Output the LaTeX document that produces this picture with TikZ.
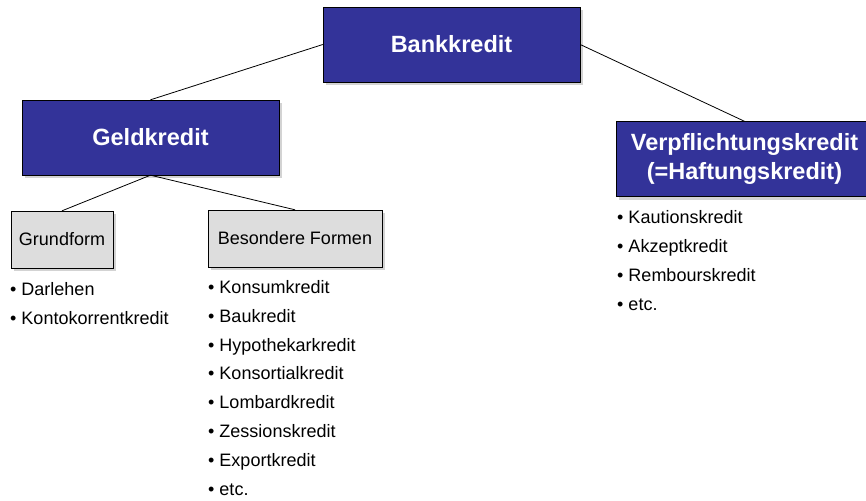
\documentclass[tikz,border=0pt]{standalone}
\usepackage{fontspec}
\setmainfont{Liberation Sans}
\usepackage{tikz}
\usetikzlibrary{shadows}
\definecolor{kreditblau}{RGB}{51,51,153}
\definecolor{formgrau}{RGB}{221,221,221}

\begin{document}
\begin{tikzpicture}[
        x=1pt, y=-1pt,
        hauptbox/.style={draw, fill=kreditblau, text=white, align=center, minimum width=257pt, minimum height=75pt, font=\fontsize{23.5}{29}\selectfont\bfseries, drop shadow={shadow xshift=3pt, shadow yshift=-3pt, opacity=0.35}},
        formbox/.style={draw, fill=formgrau, minimum height=57pt, font=\fontsize{18}{22}\selectfont, drop shadow={shadow xshift=3pt, shadow yshift=-3pt, opacity=0.35}},
        liste/.style={anchor=base west, inner sep=0pt, align=left, font=\fontsize{18}{28.8}\selectfont},
        linie/.style={line width=0.8pt}
    ]
        \useasboundingbox (0,0) rectangle (866,500);
        % Knoten
        \node (bank) at (451.5,44.5) [hauptbox] {Bankkredit};
        \node (geld) at (150.5,137.5) [hauptbox] {Geldkredit};
        \node (haftung) at (744.5,159) [hauptbox] {Verpflichtungskredit\\(=Haftungskredit)};
        \node (grundform) at (62,239.5) [formbox, minimum width=102pt] {Grundform};
        \node (besondere) at (295,238.5) [formbox, minimum width=174pt] {Besondere Formen};

        % Listen (Anker = Grundlinie der letzten Zeile)
        \node (grundliste) at (10,324) [liste] {• Darlehen\\• Kontokorrentkredit};
        \node (besondereliste) at (208,495) [liste] {• Konsumkredit\\• Baukredit\\• Hypothekarkredit\\• Konsortialkredit\\• Lombardkredit\\• Zessionskredit\\• Exportkredit\\• etc.};
        \node (haftungsliste) at (617,310) [liste] {• Kautionskredit\\• Akzeptkredit\\• Rembourskredit\\• etc.};

    \begin{scope}
        % Verbindungen
        \draw[linie] (bank.west) -- (geld.north);
        \draw[linie] (bank.east) -- (haftung.north);
        \draw[linie] (geld.south) -- (grundform.north);
        \draw[linie] (geld.south) -- (besondere.north);
    \end{scope}
    \end{tikzpicture}
\end{document}
